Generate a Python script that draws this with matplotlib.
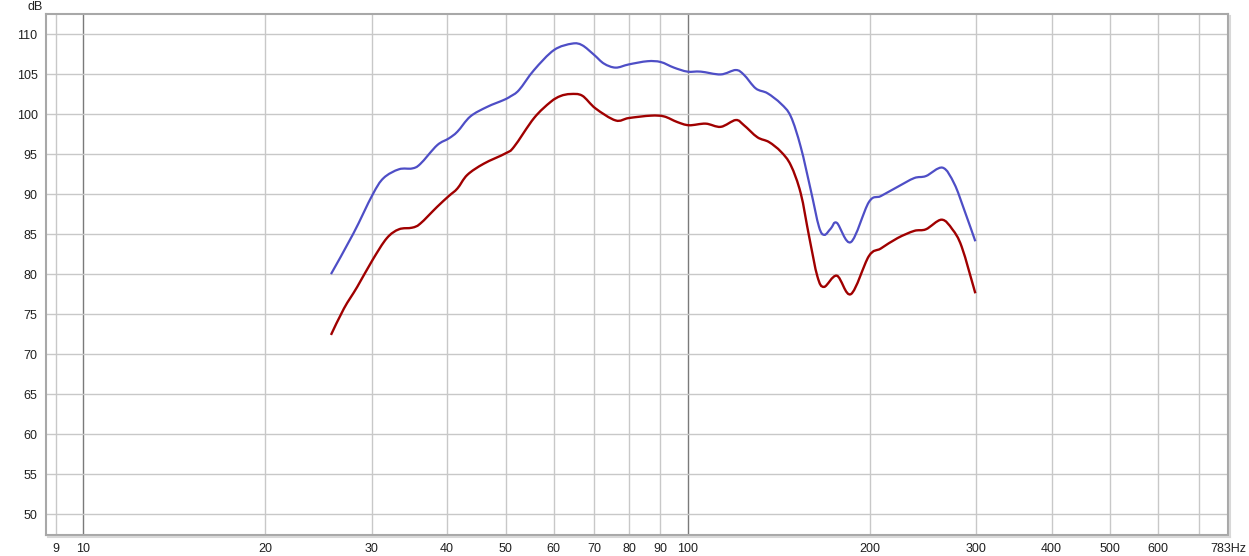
import matplotlib
matplotlib.use("Agg")
import numpy as np
import matplotlib.pyplot as plt
from matplotlib.lines import Line2D
from matplotlib.path import Path
from matplotlib.patches import PathPatch

# ---- data ----
blue_freq = [25.7, 28.0, 30.1, 31.4, 33.3, 35.0, 36.1, 38.5, 40.25, 41.6, 43.7, 46.6,
             49.6, 50.9, 52.6, 55.7, 60.1, 64.4, 66.9, 70.0, 72.7, 76.0, 79.9, 85.8,
             90.2, 94.9, 99.9, 105.1, 113.4, 120.1, 123.9, 129.6, 135.5, 142.6, 148.1,
             153.8, 159.8, 164.9, 168.3, 172.5, 176.5, 186.2, 199.4, 208.7, 222.4,
             237.0, 247.8, 264.0, 276.0, 286.8, 299.1]
blue_db = [80.0, 85.1, 89.9, 92.0, 93.1, 93.2, 93.75, 96.1, 96.95, 97.8, 99.7, 100.9,
           101.75, 102.2, 103.0, 105.5, 108.0, 108.8, 108.6, 107.4, 106.3, 105.8, 106.2, 106.6,
           106.5, 105.8, 105.3, 105.3, 104.95, 105.5, 104.9, 103.2, 102.6, 101.3, 99.7,
           95.9, 90.5, 85.9, 84.9, 85.7, 86.4, 84.0, 89.0, 89.75, 90.9,
           92.0, 92.25, 93.3, 91.3, 88.0, 84.1]

red_freq = [25.7, 27.0, 28.4, 30.1, 31.8, 33.3, 35.0, 36.1, 38.5, 40.25, 41.6, 43.2,
            46.0, 50.0, 51.6, 55.7, 59.3, 61.6, 64.0, 66.9, 70.4, 76.0, 79.9, 86.9,
            91.4, 96.1, 100.5, 107.1, 113.4, 120.1, 123.9, 130.4, 136.3, 142.6, 148.1,
            153.8, 158.8, 163.9, 168.1, 176.5, 186.2, 199.4, 208.7, 222.4, 237.0,
            247.8, 263.0, 274.0, 284.0, 299.1]
red_db = [72.4, 75.7, 78.4, 81.75, 84.5, 85.6, 85.8, 86.3, 88.4, 89.75, 90.7, 92.4,
          93.8, 95.1, 95.9, 99.5, 101.5, 102.25, 102.5, 102.3, 100.7, 99.2, 99.5, 99.8,
          99.7, 99.0, 98.6, 98.8, 98.4, 99.25, 98.6, 97.1, 96.5, 95.3, 93.6,
          90.1, 84.7, 79.7, 78.4, 79.8, 77.5, 82.25, 83.2, 84.5, 85.4,
          85.6, 86.8, 85.6, 83.4, 77.6]

x_grid = [9, 10, 20, 30, 40, 50, 60, 70, 80, 90, 100, 200, 300, 400, 500, 600, 700]
x_ticks = [9, 10, 20, 30, 40, 50, 60, 70, 80, 90, 100, 200, 300, 400, 500, 600, 783]
x_labels = ["9", "10", "20", "30", "40", "50", "60", "70", "80", "90", "100",
            "200", "300", "400", "500", "600", "783Hz"]
y_ticks = list(range(50, 111, 5))


def smooth_path(freq, db):
    """Bezier path through the points (Catmull-Rom in log-frequency space)."""
    x = np.log10(np.asarray(freq, float))
    y = np.asarray(db, float)
    P = np.column_stack([x, y])
    n = len(P)
    verts = [P[0]]
    codes = [Path.MOVETO]
    for i in range(n - 1):
        p0 = P[i - 1] if i > 0 else P[i]
        p1, p2 = P[i], P[i + 1]
        p3 = P[i + 2] if i + 2 < n else P[i + 1]
        c1 = p1 + (p2 - p0) / 6.0
        c2 = p2 - (p3 - p1) / 6.0
        verts += [c1, c2, p2]
        codes += [Path.CURVE4] * 3
    verts = np.array(verts)
    verts[:, 0] = 10 ** verts[:, 0]
    return Path(verts, codes)


# ---- figure ----
W, H = 1249, 556
fig = plt.figure(figsize=(W / 100, H / 100), dpi=100)
L, R, T, B = 46, 1228, 14, 535
ax = fig.add_axes([L / W, (H - B) / H, (R - L) / W, (B - T) / H])
ax.set_xscale("log")
ax.set_xlim(8.68, 783)
ax.set_ylim(47.4, 112.5)

font = "Liberation Sans"
for f in x_grid:
    c = "#7a7a7a" if f in (10, 100) else "#c8c8c8"
    ax.axvline(f, color=c, lw=1.0, zorder=1)
for y in y_ticks:
    ax.axhline(y, color="#c8c8c8", lw=1.0, zorder=1)

ax.set_xticks(x_ticks)
ax.set_xticklabels(x_labels, fontsize=9, family=font, color="#202020")
ax.minorticks_off()
ax.set_yticks(y_ticks)
ax.set_yticklabels([str(v) for v in y_ticks], fontsize=9, family=font, color="#202020")
ax.tick_params(length=0, pad=6)

ax.add_patch(PathPatch(smooth_path(blue_freq, blue_db), facecolor="none",
                       edgecolor="#4e4ec6", lw=1.6, zorder=3))
ax.add_patch(PathPatch(smooth_path(red_freq, red_db), facecolor="none",
                       edgecolor="#a00000", lw=1.7, zorder=3))

for s in ax.spines.values():
    s.set_color("#a8a8a8")
    s.set_linewidth(1.5)

# subtle shadow on right and bottom
fig.add_artist(Line2D([(L + 2) / W, (R + 2) / W], [(H - B - 2) / H] * 2,
                      transform=fig.transFigure, color="#d8d8d8", lw=1.5))
fig.add_artist(Line2D([(R + 2) / W] * 2, [(H - B - 2) / H, (H - T - 2) / H],
                      transform=fig.transFigure, color="#d8d8d8", lw=1.5))

fig.text(35 / W, 1 - 7 / H, "dB", ha="center", va="center", fontsize=9,
         family=font, color="#202020")

fig.savefig("out.png", dpi=100, facecolor="white")
